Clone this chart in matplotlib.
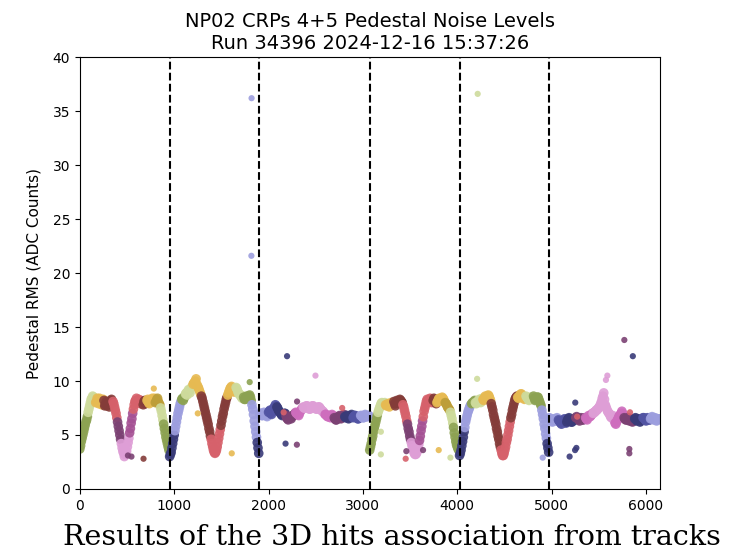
import numpy as np
import matplotlib.pyplot as plt

# pedestal RMS read every 8 channels, per plane (U, V, Y) for CRP 4 and CRP 5
step = 8
u_crp4 = [3.7, 4.0, 4.4, 4.7, 5.0, 5.3, 5.6, 5.9, 6.2, 6.4,
          6.7, 7.1, 7.4, 7.7, 8.0, 8.3, 8.4, 8.6, 8.5, 8.2,
          8.3, 8.0, 8.1, 8.4, 8.2, 7.9, 8.4, 8.2, 8.1, 7.8,
          7.9, 8.3, 8.2, 7.7, 7.8, 8.1, 7.7, 7.9, 8.0, 7.6,
          7.9, 8.2, 8.3, 7.9, 8.1, 7.9, 7.6, 7.3, 7.0, 6.6,
          6.2, 5.8, 5.4, 5.0, 4.6, 4.2, 3.8, 3.5, 3.3, 3.0,
          3.2, 3.4, 3.5, 3.9, 4.3, 4.7, 5.2, 5.6, 6.1, 6.5,
          7.0, 7.4, 7.8, 8.1, 8.2, 8.4, 8.0, 8.2, 8.3, 8.0,
          7.9, 8.2, 8.1, 7.9, 7.8, 8.1, 8.2, 7.9, 8.0, 8.2,
          8.3, 8.0, 7.9, 8.2, 8.1, 8.3, 8.4, 8.1, 8.2, 8.4,
          8.0, 8.1, 8.3, 8.4, 8.1, 7.9, 7.8, 7.5, 7.2, 6.8,
          6.4, 6.0, 5.6, 5.2, 4.8, 4.5, 4.2, 3.9, 3.6]
v_crp4 = [3.0, 3.2, 3.4, 3.8, 4.2, 4.6, 5.0, 5.4, 5.8, 6.2,
          6.6, 7.0, 7.3, 7.6, 7.9, 8.1, 8.3, 8.4, 8.2, 8.4,
          8.6, 8.8, 8.9, 8.7, 9.0, 9.2, 9.1, 8.9, 9.3, 9.4,
          9.5, 9.7, 9.8, 9.9, 10.0, 10.2, 9.7, 9.5, 9.4, 9.2,
          9.0, 8.8, 8.6, 8.4, 8.1, 7.8, 7.5, 7.2, 6.9, 6.6,
          6.3, 6.0, 5.6, 5.3, 4.9, 4.6, 4.2, 3.9, 3.6, 3.4,
          3.3, 3.4, 3.6, 3.9, 4.3, 4.7, 5.1, 5.5, 5.9, 6.3,
          6.7, 7.0, 7.4, 7.7, 8.0, 8.3, 8.5, 8.7, 8.9, 9.1,
          9.3, 9.4, 9.5, 9.3, 9.2, 9.0, 9.0, 9.2, 9.4, 9.3,
          9.1, 8.9, 8.8, 8.7, 8.7, 8.5, 8.4, 8.6, 8.5, 8.3,
          8.3, 8.5, 8.6, 8.4, 8.4, 8.6, 8.7, 8.5, 8.2, 7.8,
          7.4, 6.9, 6.3, 5.8, 5.3, 4.8, 4.3, 3.8, 3.3]
y_crp4 = [6.9, 7.0, 7.0, 6.8, 6.8, 7.0, 7.1, 6.9, 6.9, 6.8,
          6.7, 6.9, 7.1, 7.2, 7.3, 7.0, 6.9, 7.2, 7.4, 7.5,
          7.6, 7.8, 7.7, 7.6, 7.5, 7.3, 7.2, 7.1, 7.0, 6.9,
          6.8, 6.9, 6.9, 7.0, 7.0, 6.8, 6.6, 6.5, 6.4, 6.6,
          6.7, 6.6, 6.5, 6.7, 6.8, 6.8, 6.9, 7.0, 7.1, 7.0,
          7.0, 6.9, 6.8, 7.0, 7.2, 7.3, 7.4, 7.5, 7.6, 7.5,
          7.5, 7.6, 7.7, 7.7, 7.6, 7.5, 7.4, 7.4, 7.5, 7.6,
          7.7, 7.7, 7.6, 7.5, 7.5, 7.4, 7.4, 7.5, 7.6, 7.6,
          7.5, 7.4, 7.3, 7.2, 7.2, 7.1, 7.0, 6.9, 6.9, 6.8,
          6.7, 6.7, 6.8, 6.7, 6.6, 6.8, 6.9, 6.8, 6.7, 6.6,
          6.5, 6.4, 6.4, 6.5, 6.6, 6.7, 6.8, 6.6, 6.5, 6.6,
          6.7, 6.8, 6.9, 6.7, 6.6, 6.7, 6.8, 6.6, 6.5, 6.6,
          6.7, 6.8, 6.9, 6.7, 6.6, 6.7, 6.8, 6.8, 6.7, 6.6,
          6.5, 6.5, 6.6, 6.7, 6.8, 6.8, 6.7, 6.6, 6.6, 6.8,
          6.9, 6.8, 6.7, 6.7, 6.8, 6.8]
u_crp5 = [3.6, 3.9, 4.2, 4.6, 4.9, 5.3, 5.6, 5.9, 6.2, 6.5,
          6.8, 7.1, 7.3, 7.5, 7.7, 7.9, 8.0, 7.9, 7.8, 7.9,
          8.0, 7.8, 7.7, 7.8, 7.9, 7.7, 7.6, 7.8, 8.0, 7.9,
          7.8, 7.9, 8.1, 7.9, 7.7, 7.9, 8.2, 8.1, 8.0, 8.2,
          8.3, 8.2, 8.1, 8.0, 7.8, 7.6, 7.3, 7.0, 6.7, 6.3,
          6.0, 5.6, 5.3, 4.9, 4.6, 4.3, 4.0, 3.7, 3.5, 3.3,
          3.2, 3.2, 3.3, 3.5, 3.8, 4.1, 4.5, 4.9, 5.4, 5.8,
          6.3, 6.7, 7.2, 7.5, 7.8, 8.1, 8.3, 8.2, 8.1, 8.3,
          8.4, 8.2, 8.0, 8.1, 8.2, 8.4, 8.3, 8.1, 7.9, 8.0,
          8.1, 8.3, 8.4, 8.3, 8.2, 8.4, 8.5, 8.4, 8.3, 8.1,
          8.0, 7.9, 7.8, 7.6, 7.5, 7.4, 7.3, 7.1, 6.8, 6.5,
          6.1, 5.7, 5.2, 4.8, 4.4, 4.1, 3.9, 3.7, 3.6]
v_crp5 = [3.1, 3.3, 3.6, 4.0, 4.4, 4.8, 5.3, 5.7, 6.2, 6.5,
          6.8, 7.1, 7.3, 7.5, 7.7, 7.8, 7.9, 8.0, 8.0, 8.1,
          8.2, 8.0, 7.9, 8.0, 8.1, 8.2, 8.3, 8.1, 8.0, 8.2,
          8.4, 8.3, 8.2, 8.4, 8.6, 8.5, 8.4, 8.6, 8.7, 8.6,
          8.4, 8.2, 7.9, 7.6, 7.3, 6.9, 6.6, 6.3, 6.0, 5.6,
          5.3, 4.9, 4.6, 4.2, 3.9, 3.6, 3.3, 3.1, 3.1, 3.3,
          3.6, 3.9, 4.3, 4.6, 5.0, 5.4, 5.8, 6.2, 6.6, 6.9,
          7.3, 7.6, 7.9, 8.2, 8.4, 8.5, 8.6, 8.5, 8.4, 8.6,
          8.7, 8.8, 8.8, 8.6, 8.5, 8.4, 8.3, 8.5, 8.6, 8.5,
          8.4, 8.3, 8.2, 8.3, 8.5, 8.4, 8.3, 8.5, 8.6, 8.4,
          8.2, 8.3, 8.4, 8.5, 8.5, 8.3, 8.1, 7.9, 7.7, 7.3,
          6.9, 6.5, 6.0, 5.6, 5.1, 4.7, 4.2, 3.8, 3.4]
y_crp5 = [6.6, 6.5, 6.4, 6.3, 6.2, 6.4, 6.5, 6.4, 6.3, 6.4,
          6.6, 6.5, 6.4, 6.3, 6.2, 6.1, 6.0, 6.2, 6.3, 6.4,
          6.5, 6.3, 6.1, 6.2, 6.4, 6.5, 6.6, 6.4, 6.3, 6.2,
          6.2, 6.4, 6.5, 6.4, 6.4, 6.6, 6.7, 6.6, 6.5, 6.4,
          6.3, 6.5, 6.6, 6.5, 6.4, 6.4, 6.5, 6.6, 6.6, 6.5,
          6.4, 6.6, 6.8, 6.7, 6.7, 6.8, 6.9, 7.0, 7.0, 7.1,
          7.1, 7.2, 7.3, 7.3, 7.4, 7.5, 7.6, 7.7, 7.9, 8.1,
          8.4, 8.6, 8.9, 8.3, 7.8, 7.6, 7.4, 7.2, 7.1, 7.0,
          6.9, 6.7, 6.6, 6.7, 6.8, 6.5, 6.3, 6.1, 6.0, 6.2,
          6.4, 6.5, 6.7, 6.8, 6.9, 7.0, 7.2, 7.0, 6.8, 6.6,
          6.5, 6.4, 6.4, 6.5, 6.6, 6.4, 6.3, 6.4, 6.5, 6.3,
          6.2, 6.3, 6.4, 6.5, 6.6, 6.4, 6.3, 6.4, 6.5, 6.4,
          6.2, 6.3, 6.4, 6.5, 6.6, 6.6, 6.5, 6.4, 6.3, 6.4,
          6.6, 6.5, 6.4, 6.4, 6.5, 6.6, 6.7, 6.5, 6.4, 6.5,
          6.6, 6.4, 6.3, 6.4, 6.5, 6.5]

# plane boundaries (channel numbers)
plane_starts = [0, 952, 1904, 3072, 4024, 4976]
plane_kind = ["U", "V", "Y", "U", "V", "Y"]
n_channels = 6144

# colour groups inside each plane: (end offset in plane, colour)
groups = {
    "U": [(85, "#8ca252"), (165, "#cedb9c"), (250, "#e7ba52"), (350, "#843c39"),
          (395, "#d6616b"), (440, "#7b4173"), (525, "#de9ed6"), (565, "#a55194"),
          (670, "#d6616b"), (705, "#843c39"), (800, "#e7ba52"), (850, "#bd9e39"),
          (885, "#cedb9c"), (952, "#8ca252")],
    "V": [(55, "#393b79"), (125, "#9c9ede"), (165, "#8ca252"), (245, "#cedb9c"),
          (330, "#e7ba52"), (440, "#843c39"), (540, "#d6616b"), (610, "#843c39"),
          (700, "#e7ba52"), (780, "#cedb9c"), (870, "#8ca252"), (925, "#9c9ede"),
          (952, "#393b79")],
    "Y": [(90, "#9c9ede"), (180, "#5254a3"), (275, "#393b79"), (380, "#7b4173"),
          (460, "#ce6dbd"), (690, "#de9ed6"), (790, "#ce6dbd"), (900, "#7b4173"),
          (990, "#393b79"), (1070, "#5254a3"), (1168, "#9c9ede")],
}

# isolated channels: (channel, rms, colour)
outliers = [
    (784, 9.3, "#e7ba52"), (675, 2.8, "#843c39"), (547, 3.0, "#7b4173"),
    (510, 3.1, "#7b4173"), (1250, 7.0, "#e7ba52"), (1610, 3.3, "#e7ba52"),
    (1800, 9.9, "#8ca252"), (1820, 36.2, "#9c9ede"), (1818, 21.6, "#9c9ede"),
    (2196, 12.3, "#393b79"), (2180, 4.2, "#393b79"), (2300, 4.1, "#7b4173"),
    (2302, 8.1, "#7b4173"), (2497, 10.5, "#de9ed6"), (2160, 7.1, "#d6616b"),
    (2780, 7.5, "#d6616b"), (3190, 3.2, "#cedb9c"), (3190, 5.3, "#cedb9c"),
    (3453, 2.8, "#d6616b"), (3460, 3.5, "#7b4173"), (3637, 3.6, "#7b4173"),
    (3803, 3.6, "#e7ba52"), (3927, 2.9, "#cedb9c"), (4216, 36.6, "#cedb9c"),
    (4210, 10.2, "#cedb9c"), (4905, 2.9, "#9c9ede"), (5190, 3.0, "#393b79"),
    (5248, 3.6, "#393b79"), (5262, 3.8, "#393b79"), (5250, 8.0, "#393b79"),
    (5270, 6.7, "#d6616b"), (5590, 10.5, "#de9ed6"), (5575, 10.1, "#de9ed6"),
    (5770, 13.8, "#7b4173"), (5860, 12.3, "#393b79"), (5823, 3.3, "#7b4173"),
    (5823, 3.7, "#7b4173"), (5830, 7.1, "#d6616b"),
]

title = "NP02 CRPs 4+5 Pedestal Noise Levels\nRun 34396 2024-12-16 15:37:26"
caption = "Results of the 3D hits association from tracks"

planes = [u_crp4, v_crp4, y_crp4, u_crp5, v_crp5, y_crp5]

fig = plt.figure(figsize=(7.53, 5.55), dpi=100)
ax = fig.add_axes([0.106, 0.119, 0.770, 0.778])

for start, kind, vals in zip(plane_starts, plane_kind, planes):
    ch = start + np.arange(len(vals)) * step
    ends = np.array([g[0] for g in groups[kind]])
    idx = np.searchsorted(ends, ch - start, side="right")
    idx = np.clip(idx, 0, len(ends) - 1)
    cols = [groups[kind][i][1] for i in idx]
    ax.scatter(ch, vals, c=cols, s=48, alpha=0.9, edgecolors="none")

ox = [o[0] for o in outliers]
oy = [o[1] for o in outliers]
oc = [o[2] for o in outliers]
ax.scatter(ox, oy, c=oc, s=20, alpha=0.9, edgecolors="none")

for b in plane_starts[1:]:
    ax.axvline(b, color="black", linestyle="--", linewidth=1.5)

ax.set_xlim(0, n_channels)
ax.set_ylim(0, 40)
ax.set_xticks(range(0, 7000, 1000))
ax.set_ylabel("Pedestal RMS (ADC Counts)", fontsize=11, labelpad=8)
ax.set_title(title, fontsize=14)

fig.text(0.521, 0.032, caption, family="DejaVu Serif", fontsize=20.5,
         ha="center", va="center")

fig.savefig("out.png", dpi=100)
